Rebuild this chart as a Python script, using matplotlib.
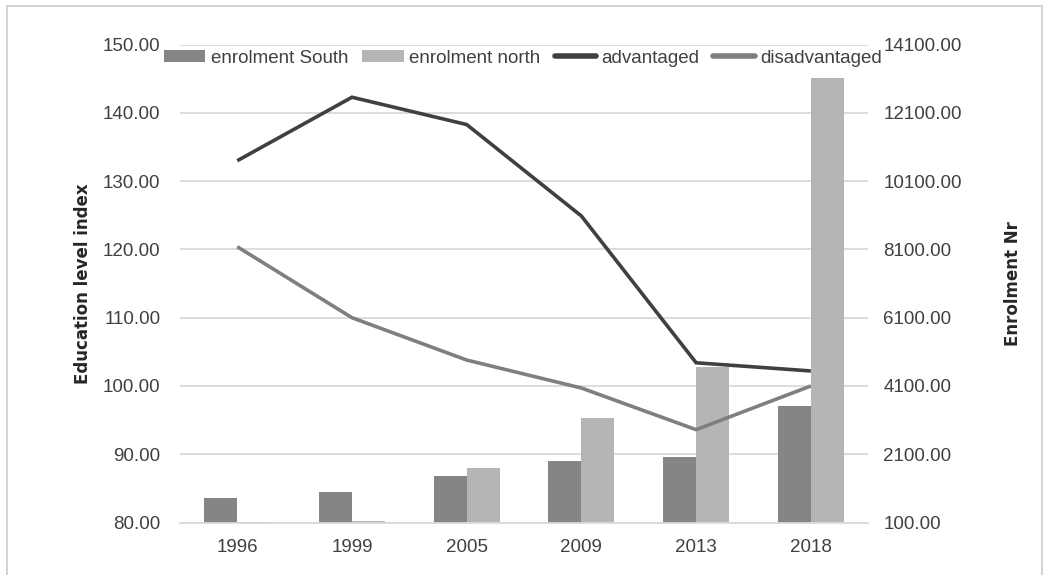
import matplotlib.pyplot as plt
from matplotlib.lines import Line2D
from matplotlib.ticker import FixedLocator, FormatStrFormatter
import numpy as np

years = ['1996', '1999', '2005', '2009', '2013', '2018']
enrol_south = [830, 990, 1460, 1910, 2010, 3500]
enrol_north = [110, 150, 1700, 3160, 4660, 13130]
advantaged = [133.0, 142.3, 138.3, 124.9, 103.4, 102.2]
disadvantaged = [120.4, 110.0, 103.8, 99.7, 93.6, 100.0]

c_south = '#858585'
c_north = '#b5b5b5'
c_adv = '#404040'
c_dis = '#7f7f7f'
txt = '#404040'
grid_c = '#d9d9d9'

plt.rcParams['font.family'] = ['Liberation Sans', 'DejaVu Sans']

fig = plt.figure(figsize=(10.46, 5.75), dpi=100)
ax = fig.add_axes([0.172, 0.0913, 0.658, 0.831])
axr = ax.twinx()

x = np.arange(len(years))
w = 0.287

# bars use the enrolment (right) scale
axr.bar(x - w / 2, enrol_south, w, color=c_south, label='enrolment South', zorder=2)
axr.bar(x + w / 2, enrol_north, w, color=c_north, label='enrolment north', zorder=2)
axr.set_ylim(100, 14100)
axr.yaxis.set_major_locator(FixedLocator(np.arange(100, 14101, 2000)))
axr.yaxis.set_major_formatter(FormatStrFormatter('%.2f'))
axr.grid(axis='y', color=grid_c, linewidth=1.3, zorder=0)
axr.set_axisbelow(True)

# lines use the education index (left) scale, drawn on top
ax.set_zorder(axr.get_zorder() + 1)
ax.patch.set_visible(False)
ax.plot(x, advantaged, color=c_adv, linewidth=2.6, label='advantaged',
        solid_joinstyle='miter', solid_capstyle='butt')
ax.plot(x, disadvantaged, color=c_dis, linewidth=2.6, label='disadvantaged',
        solid_joinstyle='miter', solid_capstyle='butt')
ax.set_ylim(80, 150)
ax.set_yticks(np.arange(80, 151, 10))
ax.yaxis.set_major_formatter(FormatStrFormatter('%.2f'))
ax.set_xlim(-0.5, len(years) - 0.5)
ax.set_xticks(x)
ax.set_xticklabels(years)

for a in (ax, axr):
    for s in a.spines.values():
        s.set_visible(False)
    a.tick_params(length=0, labelsize=13.5, labelcolor=txt)
axr.spines['bottom'].set_visible(True)
axr.spines['bottom'].set_color(grid_c)
axr.spines['bottom'].set_linewidth(1.3)
ax.tick_params(axis='y', pad=14)
axr.tick_params(axis='y', pad=11)
ax.tick_params(axis='x', pad=12)

ax.set_ylabel('Education level index', family='DejaVu Sans', fontweight='bold',
              fontsize=12, color='#262626', labelpad=8)
axr.set_ylabel('Enrolment Nr', family='DejaVu Sans', fontweight='bold',
               fontsize=12, color='#262626', labelpad=30)

handles = [axr.patches[0], axr.patches[len(years)]] + ax.get_lines()
labels = ['enrolment South', 'enrolment north', 'advantaged', 'disadvantaged']
leg = fig.legend(handles, labels, loc='center', bbox_to_anchor=(0.5, 0.899),
                 ncol=4, frameon=False, fontsize=13.5, handlelength=2.2,
                 handleheight=0.6, handletextpad=0.3, columnspacing=0.75,
                 labelcolor=txt)
for ln in leg.get_lines():
    ln.set_linewidth(4)
    ln.set_solid_capstyle('round')

# thin outer frame around the chart
fw, fh = 1046, 575
frame = dict(color='#cccccc', linewidth=1.2, transform=fig.transFigure)
fig.add_artist(Line2D([7 / fw, 7 / fw], [0, 1 - 6 / fh], **frame))
fig.add_artist(Line2D([7 / fw, 1042 / fw], [1 - 6 / fh, 1 - 6 / fh], **frame))
fig.add_artist(Line2D([1042 / fw, 1042 / fw], [0, 1 - 6 / fh], **frame))

fig.savefig('out.png', dpi=100)
